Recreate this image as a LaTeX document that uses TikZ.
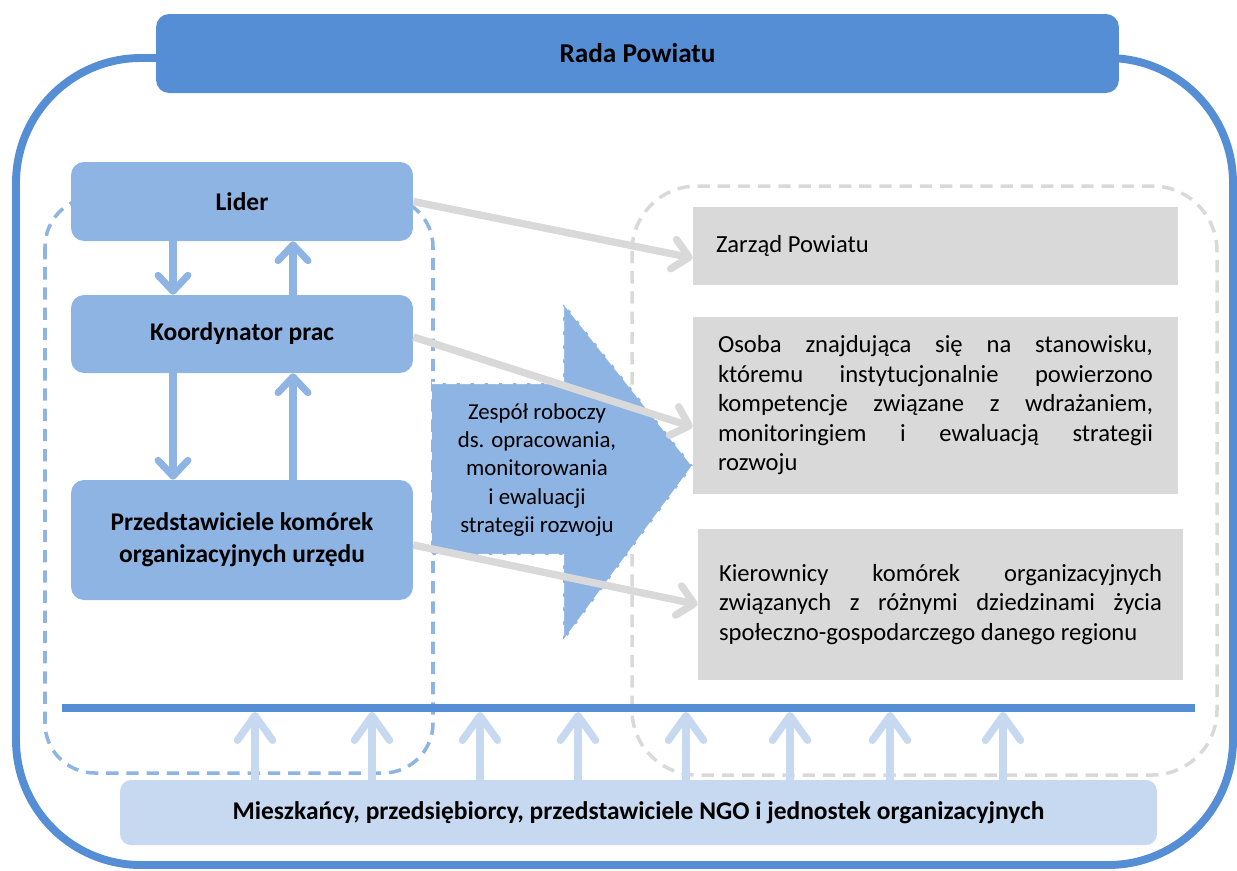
\documentclass[tikz,border=0pt]{standalone}
\usepackage{fontspec}
\setmainfont{Carlito}
\usetikzlibrary{arrows.meta}
\definecolor{dblue}{RGB}{85,142,213}
\definecolor{mblue}{RGB}{142,180,227}
\definecolor{lblue}{RGB}{198,217,241}
\definecolor{lgray}{RGB}{217,217,217}
\begin{document}
\begin{tikzpicture}[x=0.02cm,y=-0.02cm,
  bluebox/.style={fill=mblue, rounded corners=0.26cm, minimum width=6.84cm, align=center, font=\fontsize{14.5}{18}\selectfont\bfseries, inner sep=0pt},
  graybox/.style={fill=lgray, minimum width=9.7cm, inner ysep=0pt, font=\fontsize{14}{16.8}\selectfont},
  barb/.style={-{Straight Barb[length=9pt,width=17pt,round]}},
  bluearr/.style={barb, draw=mblue, line width=4pt},
  grayarr/.style={barb, draw=lgray, line width=4.2pt},
  uparr/.style={-{Straight Barb[length=14pt,width=20pt,round]}, draw=lblue, line width=4.2pt},
  dashbox/.style={line width=2pt, dash pattern=on 7pt off 4.5pt}]
\useasboundingbox (0,0) rectangle (1237,870);

% outer frame
\draw[dblue, line width=4.5pt, rounded corners=2.5cm] (16,58) rectangle (1233,865);

% dashed groups
\draw[dashbox, mblue, rounded corners=1cm] (45,197) rectangle (433,773);
\draw[dashbox, lgray, rounded corners=1.3cm] (632,186) rectangle (1217,775);

% Rada Powiatu
\node[fill=dblue, rounded corners=0.26cm, minimum width=19.26cm, minimum height=1.58cm,
      font=\fontsize{15.5}{18}\selectfont\bfseries] (rada) at (637.5,53.5) {Rada Powiatu};

% big block arrow
\fill[mblue] (432,383) -- (563,383) -- (563,302) -- (693,466) -- (563,642) -- (563,555) -- (432,555) -- cycle;
\draw[white, line width=1.3pt, dash pattern=on 6pt off 2pt] (432,383) -- (563,383) -- (563,302) -- (693,466) -- (563,642) -- (563,555) -- (432,555);
\node[align=center, font=\fontsize{13}{16}\selectfont] (zesp) at (537,470)
  {Zespół roboczy\\ds. opracowania,\\monitorowania\\i ewaluacji\\strategii rozwoju};

% left boxes
\node[bluebox, minimum height=1.58cm] (lider) at (242,201.5) {Lider};
\node[bluebox, minimum height=1.56cm] (koord) at (242,334) {Koordynator prac};
\node[bluebox, minimum height=2.4cm] (przed) at (242,540) {Przedstawiciele komórek\\organizacyjnych urzędu};

% right boxes
\node[graybox, minimum height=1.56cm, inner xsep=0.46cm, text width=8.78cm, align=flush left] (zarzad) at (935.5,246) {Zarząd Powiatu};
\node[graybox, minimum height=3.54cm, inner xsep=0.5cm, text width=8.7cm, align=justify] (osoba) at (935.5,405.5)
  {Osoba znajdująca się na stanowisku,\linebreak któremu instytucjonalnie powierzono\linebreak kompetencje związane z wdrażaniem,\linebreak monitoringiem i ewaluacją strategii\linebreak rozwoju};
\node[graybox, minimum height=3.02cm, inner xsep=0.42cm, text width=8.86cm, align=justify] (kier) at (940.5,604.5)
  {Kierownicy komórek organizacyjnych\linebreak związanych z różnymi dziedzinami życia\linebreak społeczno-gospodarczego danego regionu};

% vertical arrows between left boxes
\draw[bluearr] (lider.south -| 173,0) -- (koord.north -| 173,0);
\draw[bluearr] (koord.north -| 293,0) -- (lider.south -| 293,0);
\draw[bluearr] (koord.south -| 173,0) -- (przed.north -| 173,0);
\draw[bluearr] (przed.north -| 293,0) -- (koord.south -| 293,0);

% gray arrows
\draw[grayarr] (lider.east) -- (zarzad.west |- 0,258);
\draw[grayarr] (koord.east |- 0,337) -- (osoba.west |- 0,427);
\draw[grayarr] (przed.east |- 0,545) -- (kier.west);

% bar
\coordinate (barL) at (62,708);
\coordinate (barR) at (1195,708);
\draw[dblue, line width=4.5pt] (barL) -- (barR);

% bottom box
\node[fill=lblue, rounded corners=0.22cm, minimum width=20.74cm, minimum height=1.3cm,
      font=\fontsize{14.5}{18}\selectfont\bfseries] (miesz) at (638.5,812.5)
  {Mieszkańcy, przedsiębiorcy, przedstawiciele NGO i jednostek organizacyjnych};

\foreach \xx in {255,372,480,578,686,790,890,1003}
  \draw[uparr] (miesz.north -| \xx,0) -- (\xx,712);
\end{tikzpicture}
\end{document}
